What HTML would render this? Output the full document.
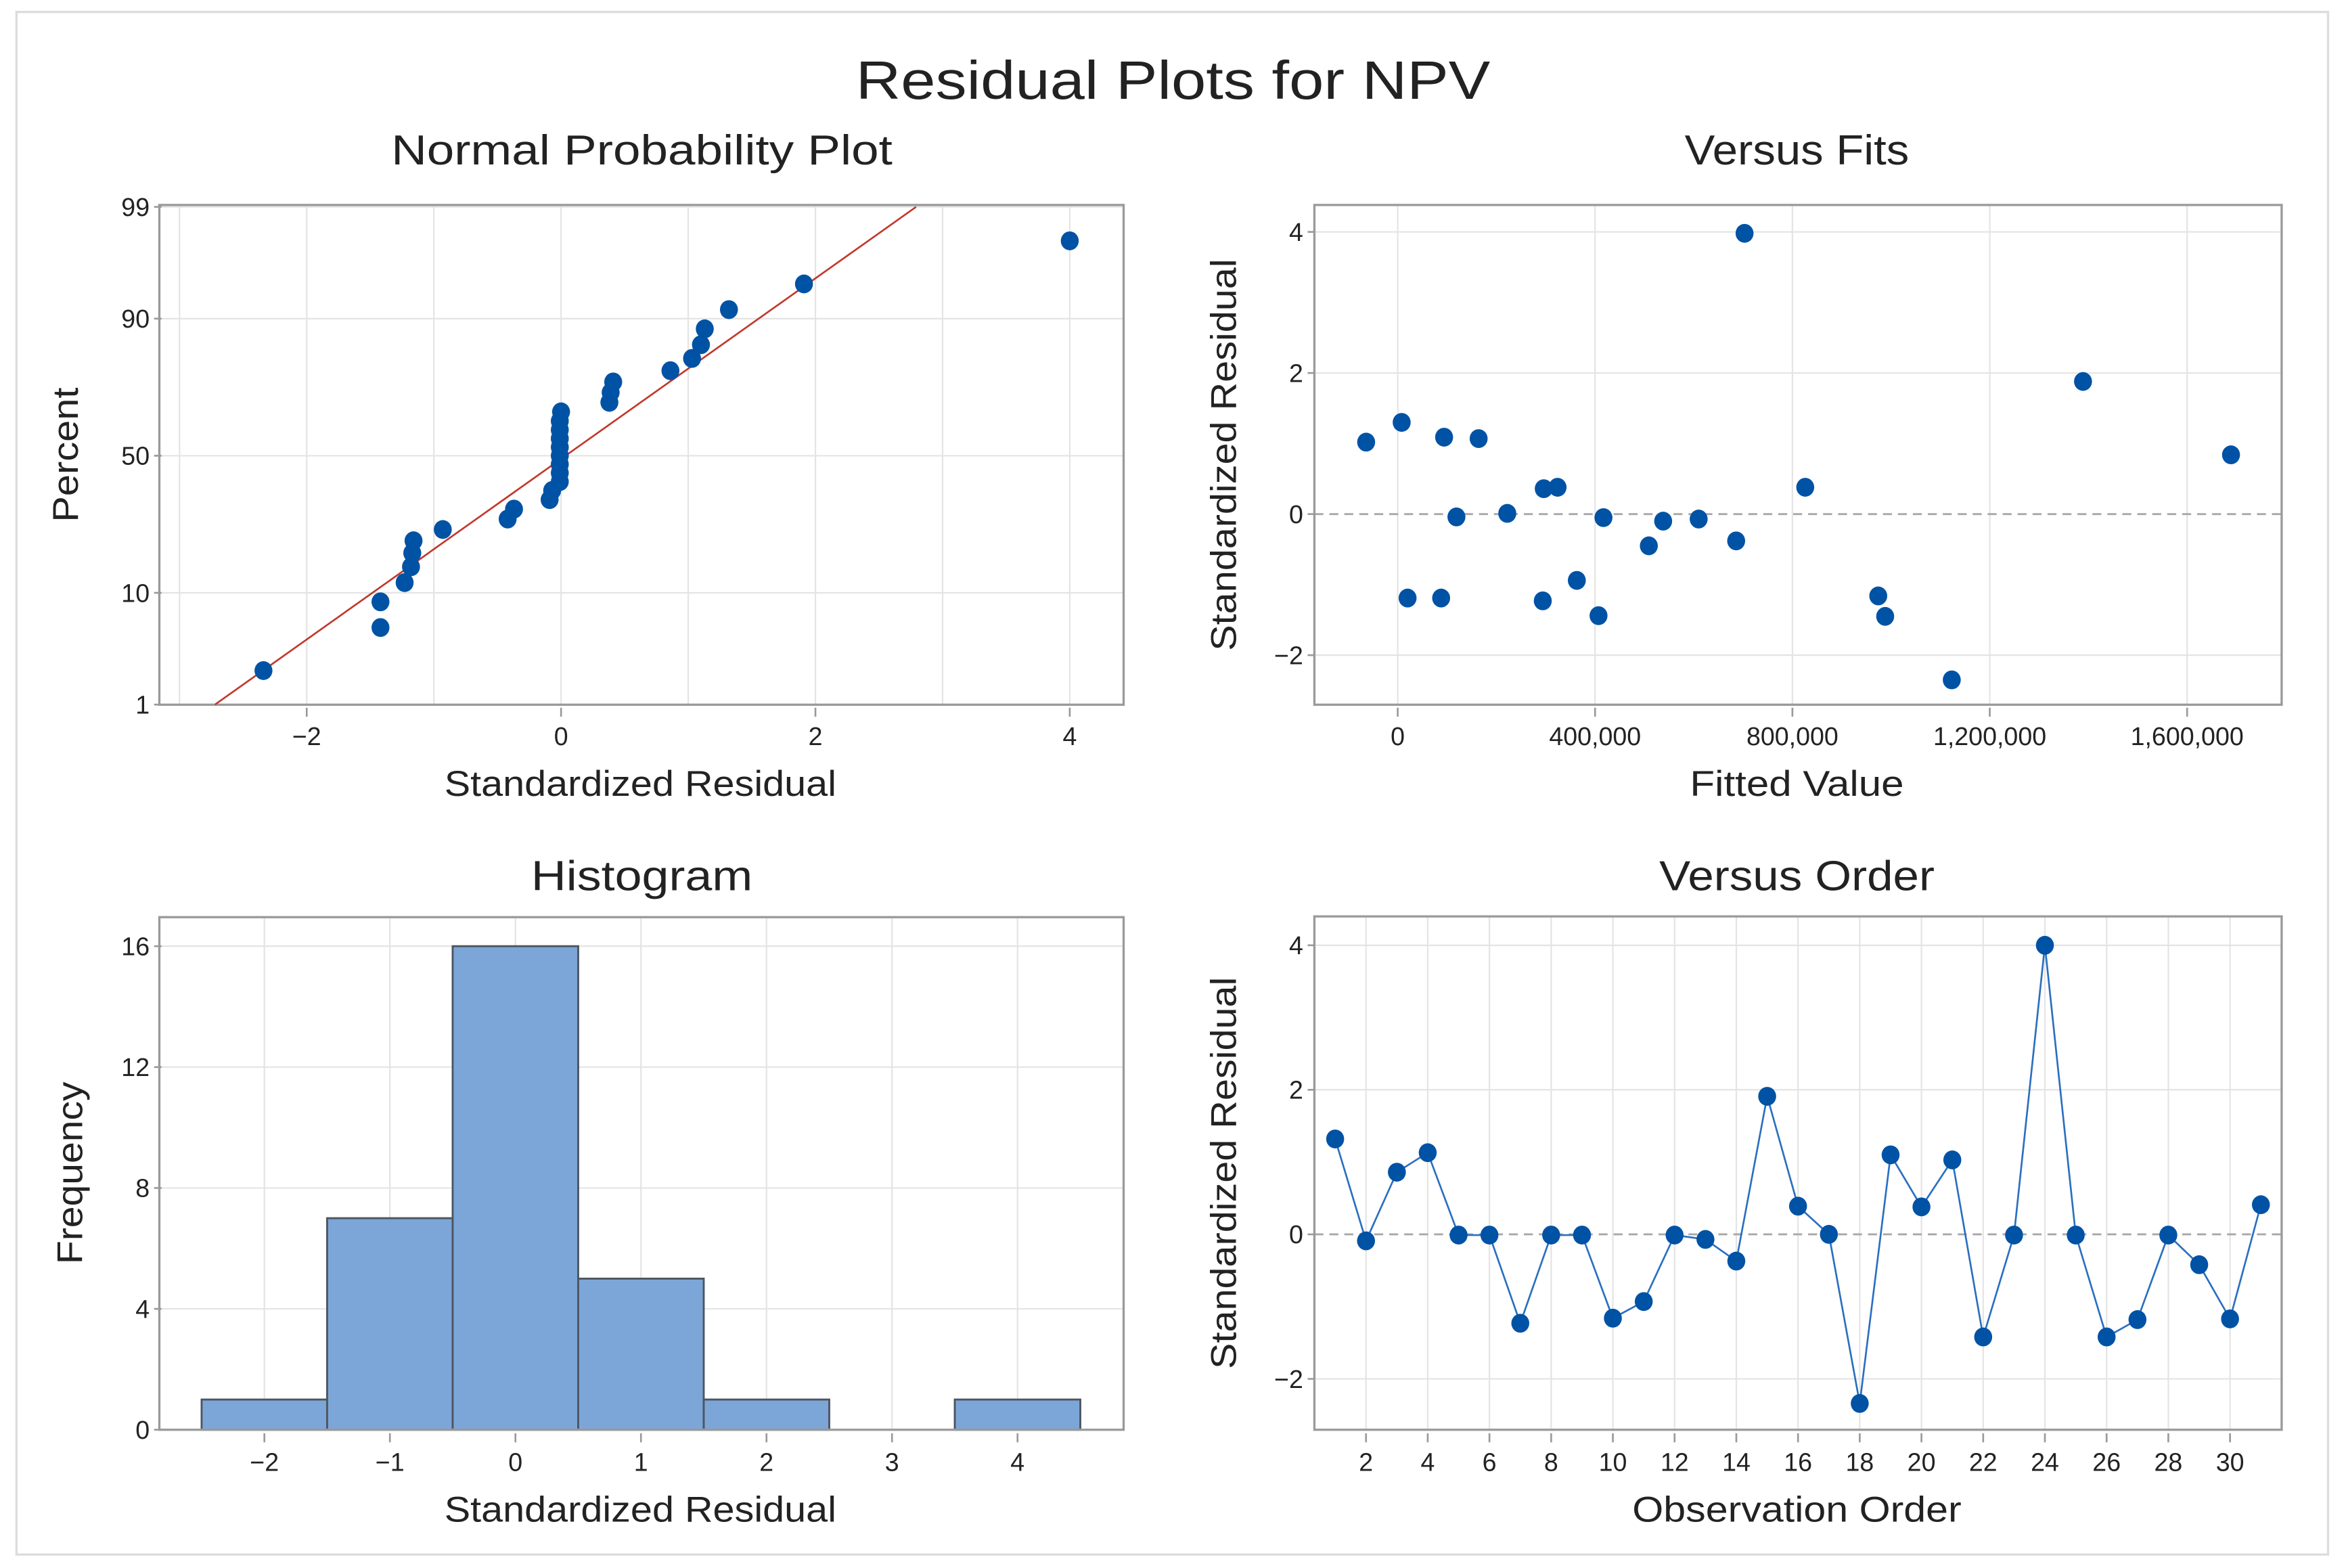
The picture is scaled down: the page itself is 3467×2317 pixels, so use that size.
<!DOCTYPE html>
<html><head><meta charset="utf-8"><style>
html,body{margin:0;padding:0;background:#fff;}
svg{display:block;}
text{font-family:"Liberation Sans",sans-serif;fill:#222;}
</style></head>
<body>
<svg id="c" width="3467" height="2317" viewBox="0 0 1568 1048" preserveAspectRatio="none" xmlns="http://www.w3.org/2000/svg">
<rect x="11" y="8" width="1545" height="1031" fill="#fff" stroke="#dcdcdc" stroke-width="1.5"/>
<text x="784" y="66" text-anchor="middle" font-size="36" textLength="424" lengthAdjust="spacingAndGlyphs" fill="#333">Residual Plots for NPV</text>
<g id="g"></g>
</svg>
<script>
// ---- data ----
const orderResiduals = [1.32,-0.09,0.86,1.13,-0.01,-0.01,-1.23,-0.01,-0.01,-1.16,-0.93,-0.01,-0.07,-0.37,1.91,0.39,0.0,-2.34,1.10,0.38,1.03,-1.42,-0.01,4.0,-0.01,-1.42,-1.18,-0.01,-0.42,-1.17,0.41];
const fitValues = [-64000,8000,94000,164000,119000,222000,296000,324000,417000,538000,610000,509000,686000,703000,826000,20000,88000,294000,363000,407000,974000,988000,1123000,1389000,1689000];
const fitResiduals = [1.02,1.30,1.09,1.07,-0.04,0.01,0.36,0.38,-0.05,-0.10,-0.07,-0.45,-0.38,3.98,0.38,-1.19,-1.19,-1.23,-0.94,-1.44,-1.16,-1.45,-2.35,1.88,0.84];
const histBins = [-2,-1,0,1,2,3,4];
const histCounts = [1,7,16,5,1,0,1];
const nppXTicks = [-2,0,2,4];
const nppYTicks = [1,10,50,90,99];
const fitXTicks = [0,400000,800000,1200000,1600000];
const fitXTickLabels = ["0","400,000","800,000","1,200,000","1,600,000"];
const resYTicks = [-2,0,2,4];
const histYTicks = [0,4,8,12,16];
const orderXTicks = [2,4,6,8,10,12,14,16,18,20,22,24,26,28,30];
const fitLineMean = 0.035, fitLineSd = 1.185;

const NS="http://www.w3.org/2000/svg";
const G=document.getElementById('g');
function mk(tag,attrs,parent){const e=document.createElementNS(NS,tag);for(const k in attrs)e.setAttribute(k,attrs[k]);(parent||G).appendChild(e);return e;}
function txt(s,attrs,parent){const e=mk('text',attrs,parent);e.textContent=s;return e;}
function invNorm(p){
 const a=[-39.6968302866538,220.946098424521,-275.928510446969,138.357751867269,-30.6647980661472,2.50662827745924];
 const b=[-54.4760987982241,161.585836858041,-155.698979859887,66.8013118877197,-13.2806815528857];
 const c=[-0.00778489400243029,-0.322396458041136,-2.40075827716184,-2.54973253934373,4.37466414146497,2.93816398269878];
 const d=[0.00778469570904146,0.32246712907004,2.445134137143,3.75440866190742];
 let q,r;
 if(p<0.02425){q=Math.sqrt(-2*Math.log(p));return (((((c[0]*q+c[1])*q+c[2])*q+c[3])*q+c[4])*q+c[5])/((((d[0]*q+d[1])*q+d[2])*q+d[3])*q+1);}
 if(p>1-0.02425){q=Math.sqrt(-2*Math.log(1-p));return -(((((c[0]*q+c[1])*q+c[2])*q+c[3])*q+c[4])*q+c[5])/((((d[0]*q+d[1])*q+d[2])*q+d[3])*q+1);}
 q=p-0.5;r=q*q;return (((((a[0]*r+a[1])*r+a[2])*r+a[3])*r+a[4])*r+a[5])*q/(((((b[0]*r+b[1])*r+b[2])*r+b[3])*r+b[4])*r+1);
}
const GRID="#e4e4e4", FRAME="#9a9a9a", DOT="#0052a5";
function frame(x0,y0,x1,y1,name){
 const r=mk('rect',{x:x0,y:y0,width:x1-x0,height:y1-y0,fill:'none',stroke:FRAME,'stroke-width':1.5});
 
 
}
function vgrid(x,y0,y1){const l=mk('line',{x1:x,x2:x,y1:y0,y2:y1,stroke:GRID,'stroke-width':1});}
function hgrid(y,x0,x1){const l=mk('line',{x1:x0,x2:x1,y1:y,y2:y,stroke:GRID,'stroke-width':1});}
function xtickLabel(s,x,y){mk('line',{x1:x,x2:x,y1:y-25,y2:y-19,stroke:FRAME,'stroke-width':1.2});const t=txt(s,{x:x,y:y,'text-anchor':'middle','font-size':17});}
function ytickLabel(s,x,y){mk('line',{x1:x+3,x2:x+8,y1:y,y2:y,stroke:FRAME,'stroke-width':1.2});const t=txt(s,{x:x,y:y+6,'text-anchor':'end','font-size':17});}
function title(s,x,y,w,name){const t=txt(s,{x:x,y:y,'text-anchor':'middle','font-size':28,textLength:w,lengthAdjust:'spacingAndGlyphs',fill:'#333'});}
function xlabel(s,x,y,w,name){const t=txt(s,{x:x,y:y,'text-anchor':'middle','font-size':24,textLength:w,lengthAdjust:'spacingAndGlyphs',fill:'#333'});}
function ylabel(s,x,y,w,name){const t=txt(s,{x:0,y:0,'text-anchor':'middle','font-size':24,textLength:w,lengthAdjust:'spacingAndGlyphs',fill:'#333',transform:`translate(${x},${y}) rotate(-90)`});}
function dot(x,y,name){const c=mk('ellipse',{cx:x,cy:y,rx:6,ry:6.3,fill:DOT});}

// ===== Normal probability plot =====
(function(){
 const L=106.5,R=751,T=137,B=471;
 const sx=v=>375+85*v;
 const sy=p=>304.6-71.5*invNorm(p/100);
 for(let v=-3;v<=4;v++) vgrid(sx(v),T,B);
 nppYTicks.forEach(p=>hgrid(sy(p),L,R));
 frame(L,T,R,B,'normal-probability-plot');
 nppXTicks.forEach(v=>xtickLabel(v<0?'\u2212'+Math.abs(v):String(v),sx(v),498));
 nppYTicks.forEach(p=>ytickLabel(String(p),100,sy(p)));
 // fit line
 const zlo=invNorm(0.01), zhi=invNorm(0.99);
 const fl=mk('line',{x1:sx(fitLineMean+fitLineSd*zlo),y1:sy(1),x2:sx(fitLineMean+fitLineSd*zhi),y2:sy(99),stroke:'#c0392b','stroke-width':1.2});
 
 
 const s=[...orderResiduals].sort((a,b)=>a-b), n=s.length;
 s.forEach((v,i)=>dot(sx(v),sy(100*(i+1-0.3)/(n+0.4)),'npp-point'));
 title('Normal Probability Plot',429,110,335,'npp-title');
 xlabel('Standardized Residual',428,532,262,'npp-x-axis-title');
 ylabel('Percent',52,304,90,'npp-y-axis-title');
})();

// ===== Versus fits =====
(function(){
 const L=878.5,R=1525,T=137,B=471;
 const sx=v=>934.2+v*131.9/400000;
 const sy=v=>343.6-47.15*v;
 fitXTicks.forEach(v=>vgrid(sx(v),T,B));
 resYTicks.forEach(v=>{ if(v!==0) hgrid(sy(v),L,R); });
 const z=mk('line',{x1:L,x2:R,y1:sy(0),y2:sy(0),stroke:'#a8a8a8','stroke-width':1.3,'stroke-dasharray':'6,4'});
 
 
 frame(L,T,R,B,'versus-fits');
 fitXTicks.forEach((v,i)=>xtickLabel(fitXTickLabels[i],sx(v),498));
 resYTicks.forEach(v=>ytickLabel(v<0?'\u2212'+Math.abs(v):String(v),871,sy(v)));
 fitValues.forEach((f,i)=>dot(sx(f),sy(fitResiduals[i]),'fits-point'));
 title('Versus Fits',1201,110,150,'versus-fits-title');
 xlabel('Fitted Value',1201,532,143,'fits-x-axis-title');
 ylabel('Standardized Residual',826,304,262,'fits-y-axis-title');
})();

// ===== Histogram =====
(function(){
 const L=106.5,R=751,T=613,B=955.6;
 const sx=v=>344.5+83.9*v;
 const sy=v=>955.6-20.2*v;
 for(let v=-2;v<=4;v++) vgrid(sx(v),T,B);
 histYTicks.forEach(v=>{ if(v>0) hgrid(sy(v),L,R); });
 histBins.forEach((b,i)=>{
  if(histCounts[i]<=0) return;
  const r=mk('rect',{x:sx(b-0.5),y:sy(histCounts[i]),width:sx(b+0.5)-sx(b-0.5),height:sy(0)-sy(histCounts[i]),fill:'#7ca6d8',stroke:'#4d5560','stroke-width':1.3});
  
  
 });
 frame(L,T,R,B,'histogram');
 for(let v=-2;v<=4;v++) xtickLabel(v<0?'\u2212'+Math.abs(v):String(v),sx(v),983);
 histYTicks.forEach(v=>ytickLabel(String(v),100,sy(v)));
 title('Histogram',429,595,148,'histogram-title');
 xlabel('Standardized Residual',428,1017,262,'histogram-x-axis-title');
 ylabel('Frequency',55,784,122,'histogram-y-axis-title');
})();

// ===== Versus order =====
(function(){
 const L=878.5,R=1525,T=612.5,B=955.6;
 const sx=v=>913+(v-2)*20.625;
 const sy=v=>825-48.3*v;
 orderXTicks.forEach(v=>vgrid(sx(v),T,B));
 resYTicks.forEach(v=>{ if(v!==0) hgrid(sy(v),L,R); });
 const z=mk('line',{x1:L,x2:R,y1:sy(0),y2:sy(0),stroke:'#a8a8a8','stroke-width':1.3,'stroke-dasharray':'6,4'});
 
 
 frame(L,T,R,B,'versus-order');
 orderXTicks.forEach(v=>xtickLabel(String(v),sx(v),983));
 resYTicks.forEach(v=>ytickLabel(v<0?'\u2212'+Math.abs(v):String(v),871,sy(v)));
 const pts=orderResiduals.map((v,i)=>sx(i+1)+','+sy(v)).join(' ');
 const pl=mk('polyline',{points:pts,fill:'none',stroke:'#2a6fc0','stroke-width':1.2});
 
 
 orderResiduals.forEach((v,i)=>dot(sx(i+1),sy(v),'order-point'));
 title('Versus Order',1201,595,184,'versus-order-title');
 xlabel('Observation Order',1201,1017,220,'order-x-axis-title');
 ylabel('Standardized Residual',826,784,262,'order-y-axis-title');
})();
</script>
</body></html>
